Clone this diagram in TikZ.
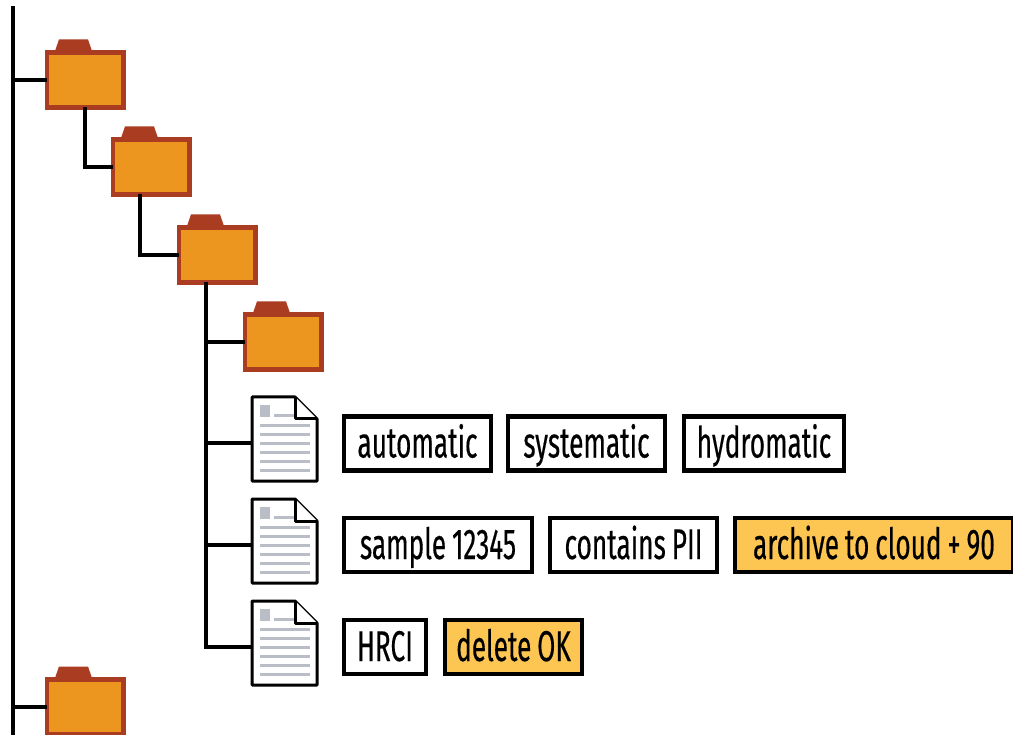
\documentclass[tikz,border=0pt]{standalone}
\usepackage{fontspec}
\setmainfont[FakeStretch=0.61,FakeBold=0.35,WordSpace=0.85]{Fira Sans}
\definecolor{folderfill}{HTML}{EC961F}
\definecolor{folderline}{HTML}{A93C21}
\definecolor{tagfill}{HTML}{FDC652}
\definecolor{docgrey}{HTML}{B9BEC6}
\tikzset{
  folderbody/.style={draw=folderline,fill=folderfill,line width=4.4pt,minimum width=76.6pt,minimum height=55pt,inner sep=0pt,outer sep=0pt},
  foldertab/.style={fill=folderline,draw=none},
  docbox/.style={minimum width=65pt,minimum height=84pt,inner sep=0pt,outer sep=0pt},
  docline/.style={draw=black,line width=3pt,line join=round,fill=white},
  docbar/.style={draw=docgrey,line width=3.8pt},
  link/.style={draw=black,line width=4pt,line join=miter},
  tagbox/.style={draw=black,line width=4.6pt,minimum height=54pt,inner sep=0pt,outer sep=0pt,text height=28pt,text depth=0pt,font=\fontsize{43pt}{43pt}\selectfont},
  plaintag/.style={tagbox,fill=white},
  hottag/.style={tagbox,fill=tagfill}
}
\newcommand{\folderat}[2]{%
  \fill[foldertab] (#2)++(-30,-29) -- ++(4,-11.5) -- ++(29,0) -- ++(4,11.5) -- cycle;
  \node[folderbody] (#1) at (#2) {};
}
\newcommand{\docat}[2]{%
  \node[docbox] (#1) at (#2) {};
  \begin{scope}[shift={(#1.north west)}]
    \draw[docline] (0,0) -- (43,0) -- (65,22) -- (65,84) -- (0,84) -- cycle;
    \draw[docline] (43,0) -- (43,22) -- (65,22);
    \fill[docgrey] (7.5,8) rectangle (17.5,20);
    \draw[docbar] (22,18.5) -- (42,18.5);
    \foreach \yy in {28.5,37.5,46.5,55.5,64.5,73.5}{\draw[docbar] (7.5,\yy) -- (58,\yy);}
  \end{scope}
}
\begin{document}
\begin{tikzpicture}[x=1pt,y=-1pt]
\useasboundingbox (0,0) rectangle (1013,735);
\clip (0,0) rectangle (1013,735);
\fill[white] (0,0) rectangle (1013,735);
% named nodes
\folderat{f1}{85,80}
\folderat{f2}{151,167}
\folderat{f3}{217,255}
\folderat{f4}{283,342}
\folderat{f5}{85,707}
\docat{d1}{284.5,439}
\docat{d2}{284.5,541}
\docat{d3}{284.5,643}
\node[plaintag,minimum width=147pt] (a1) at (417.5,443.5) {automatic};
\node[plaintag,minimum width=157pt] (a2) at (586.5,443.5) {systematic};
\node[plaintag,minimum width=160pt] (a3) at (764,443.5) {hydromatic};
\node[plaintag,minimum width=188pt] (b1) at (438,545) {sample 12345};
\node[plaintag,minimum width=167pt] (b2) at (633.5,545) {contains PII};
\node[hottag,minimum width=278pt] (b3) at (874,545) {archive to cloud + 90};
\node[plaintag,minimum width=82pt] (c1) at (385,647) {HRCI};
\node[hottag,minimum width=137pt] (c2) at (513.5,647) {delete OK};
% trunk coordinates
\coordinate (top) at (13,6);
\coordinate (bot) at (13,735);
\coordinate (t1) at (85,167);
\coordinate (t2) at (140,255);
\coordinate (t3) at (206,647);
% connectors
\draw[link] (top) -- (bot);
\draw[link] (top |- f1) -- (f1.west);
\draw[link] (top |- f5) -- (f5.west);
\draw[link] (t1 |- f1.south) -- (t1) -- (f2.west);
\draw[link] (t2 |- f2.south) -- (t2) -- (f3.west);
\draw[link] (t3 |- f3.south) -- (t3) -- (d3.west |- t3);
\draw[link] (t3 |- f4) -- (f4.west);
\draw[link] (t3 |- a1) -- (d1.west |- a1);
\draw[link] (t3 |- b1) -- (d2.west |- b1);
\end{tikzpicture}
\end{document}
